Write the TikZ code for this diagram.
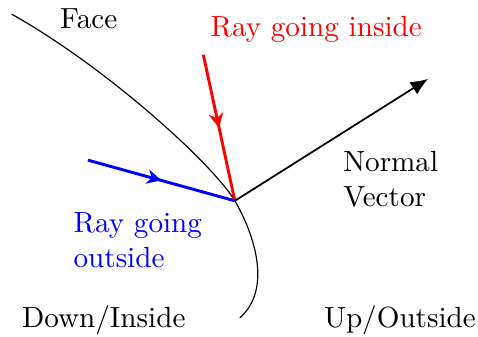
\documentclass[tikz,border=0pt]{standalone}
\usepackage{tikz}
\usepackage{xcolor}
\usetikzlibrary{arrows.meta,calc,positioning,decorations.markings}

\begin{document}
\begin{tikzpicture}[x=1cm,y=1cm,
    ray/.style={line width=1pt, postaction={decorate}, decoration={markings,
        mark=at position 0.5 with {\arrow{Stealth[length=5pt,width=5pt]}}}},
    normalvec/.style={semithick, -{Latex[length=6pt,width=5pt]}},
    lbl/.style={inner sep=0pt, align=left}]
  \useasboundingbox (0,0) rectangle (5.76,-4.05);

  % the face and the hit point
  \coordinate (hit) at (2.83,-2.42);
  \draw (0.14,-0.17) .. controls (1.33,-0.84) and (2.59,-2.01) .. (hit)
        .. controls (3.07,-2.83) and (3.28,-3.49) .. (2.89,-3.83);
  \node[inner sep=0pt] (face) at (1.07,-0.22) {Face};

  % rays
  \coordinate (redstart) at (2.45,-0.66);
  \coordinate (bluestart) at (1.06,-1.93);
  \draw[ray, red] (redstart) -- (hit);
  \draw[ray, blue] (bluestart) -- (hit);
  \node[lbl, red] (inside) at (3.81,-0.36) {Ray going inside};
  \node[lbl, blue, anchor=west] (outside) at (0.88,-2.89) {Ray going\\outside};

  % normal
  \coordinate (tip) at (5.16,-0.95);
  \draw[normalvec] (hit) -- (tip);
  \node[lbl, anchor=west] (normal) at (4.13,-2.16) {Normal\\Vector};

  % sides
  \node[inner sep=0pt] (down) at (1.25,-3.86) {Down/Inside};
  \node[inner sep=0pt] (up) at (4.82,-3.86) {Up/Outside};
\end{tikzpicture}
\end{document}
